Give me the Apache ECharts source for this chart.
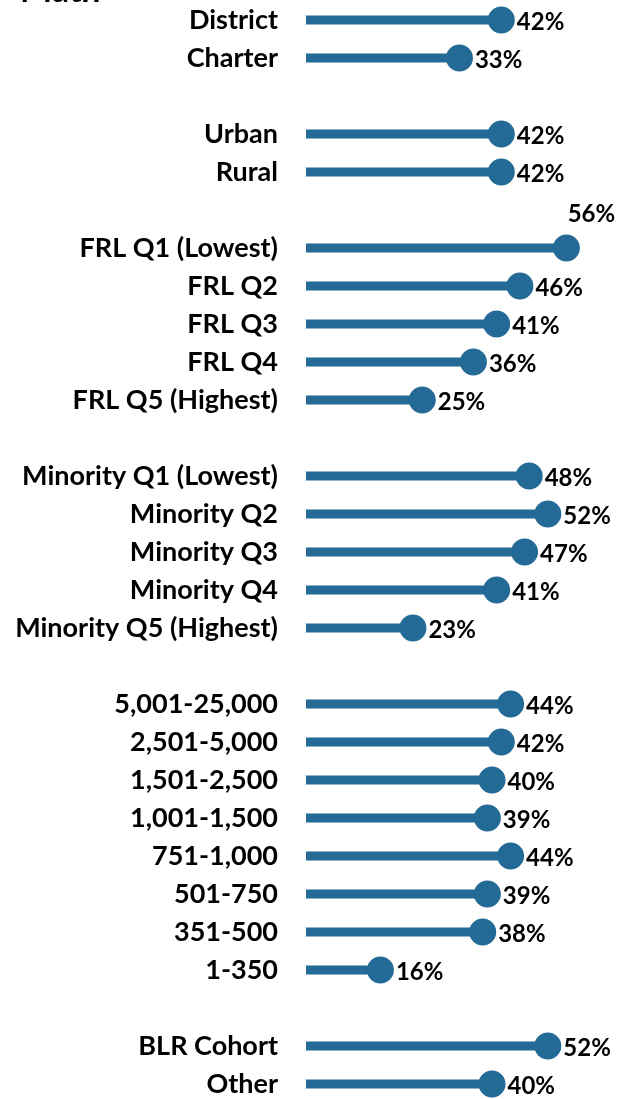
<!DOCTYPE html>
<html>
<head>
<meta charset="utf-8">
<script src="https://cdn.jsdelivr.net/npm/echarts@6/dist/echarts.min.js"></script>
<style>
  html, body { margin: 0; padding: 0; background: #fff; }
  #chart { width: 626px; height: 1099px; }
</style>
</head>
<body>
<div id="chart"></div>
<script>
(function() {
  var blue = '#236a96';
  var ink = '#000';
  var font = 'Lato';

  // blank strings are the gaps between groups
  var categories = [
    'District', 'Charter', '',
    'Urban', 'Rural', '',
    'FRL Q1 (Lowest)', 'FRL Q2', 'FRL Q3', 'FRL Q4', 'FRL Q5 (Highest)', '',
    'Minority Q1 (Lowest)', 'Minority Q2', 'Minority Q3', 'Minority Q4', 'Minority Q5 (Highest)', '',
    '5,001-25,000', '2,501-5,000', '1,501-2,500', '1,001-1,500', '751-1,000', '501-750', '351-500', '1-350', '',
    'BLR Cohort', 'Other'
  ];
  var values = [
    42, 33, null,
    42, 42, null,
    56, 46, 41, 36, 25, null,
    48, 52, 47, 41, 23, null,
    44, 42, 40, 39, 44, 39, 38, 16, null,
    52, 40
  ];

  var dots = values.map(function(v) {
    if (v === null) return null;
    var d = { value: v };
    if (v === 56) {
      d.label = { position: 'top', offset: [25, -6] };
    }
    return d;
  });

  var chart = echarts.init(document.getElementById('chart'), null, { renderer: 'canvas' });
  chart.setOption({
    animation: false,
    grid: { left: 306, top: 1, width: 279, height: 1102, outerBoundsMode: 'none' },
    xAxis: {
      type: 'value',
      min: 0,
      max: 60,
      show: false
    },
    yAxis: {
      type: 'category',
      data: categories,
      inverse: true,
      axisLine: { show: false },
      axisTick: { show: false },
      axisLabel: {
        color: ink,
        fontFamily: font,
        fontWeight: 'bold',
        fontSize: 27,
        margin: 28
      }
    },
    graphic: [{
      type: 'text',
      left: 20,
      top: -26,
      style: { text: 'Math', fill: ink, font: 'bold 34px Lato' }
    }],
    series: [{
      type: 'bar',
      data: values,
      barWidth: 9,
      itemStyle: { color: blue },
      silent: true
    }, {
      type: 'scatter',
      data: dots,
      symbol: 'circle',
      symbolSize: 27,
      itemStyle: { color: blue, opacity: 1 },
      label: {
        show: true,
        position: 'right',
        distance: 2,
        offset: [0, 2],
        formatter: '{c}%',
        color: ink,
        fontFamily: font,
        fontWeight: 'bold',
        fontSize: 24
      },
      z: 3
    }]
  });
})();
</script>
</body>
</html>
